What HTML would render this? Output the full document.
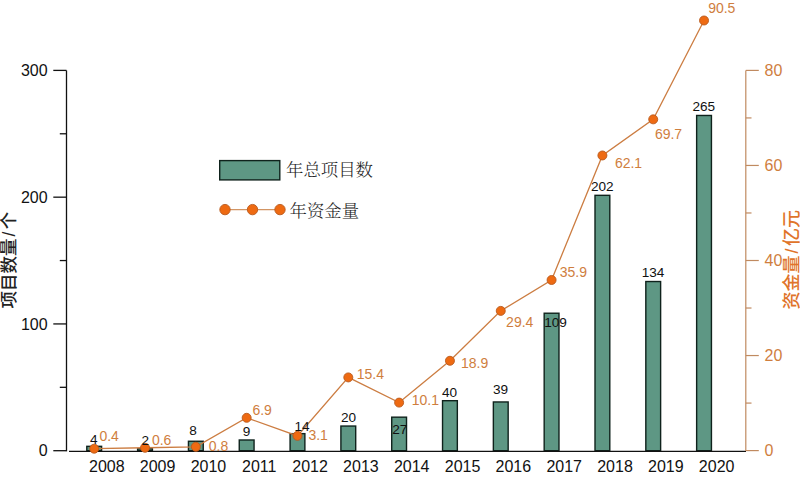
<!DOCTYPE html><html><head><meta charset="utf-8"><style>
html,body{margin:0;padding:0;background:#fff;width:800px;height:480px;overflow:hidden}
svg{display:block}
.n{font-family:"Liberation Sans",Arial,sans-serif}
.cjs{font-family:"Liberation Sans","Noto Sans CJK SC",sans-serif}
.cjr{font-family:"Liberation Serif","Noto Serif CJK SC",serif}
</style></head><body>
<svg width="800" height="480" viewBox="0 0 800 480">
<rect width="800" height="480" fill="#fff"/>
<rect x="86.80" y="446.33" width="14.80" height="4.37" fill="#5E9784" stroke="#0F221C" stroke-width="1.4"/>
<rect x="137.62" y="448.86" width="14.80" height="1.84" fill="#5E9784" stroke="#0F221C" stroke-width="1.4"/>
<rect x="188.44" y="441.26" width="14.80" height="9.44" fill="#5E9784" stroke="#0F221C" stroke-width="1.4"/>
<rect x="239.26" y="439.99" width="14.80" height="10.71" fill="#5E9784" stroke="#0F221C" stroke-width="1.4"/>
<rect x="290.08" y="433.65" width="14.80" height="17.05" fill="#5E9784" stroke="#0F221C" stroke-width="1.4"/>
<rect x="340.90" y="426.05" width="14.80" height="24.65" fill="#5E9784" stroke="#0F221C" stroke-width="1.4"/>
<rect x="391.72" y="417.17" width="14.80" height="33.53" fill="#5E9784" stroke="#0F221C" stroke-width="1.4"/>
<rect x="442.54" y="400.69" width="14.80" height="50.01" fill="#5E9784" stroke="#0F221C" stroke-width="1.4"/>
<rect x="493.36" y="401.96" width="14.80" height="48.74" fill="#5E9784" stroke="#0F221C" stroke-width="1.4"/>
<rect x="544.18" y="313.22" width="14.80" height="137.48" fill="#5E9784" stroke="#0F221C" stroke-width="1.4"/>
<rect x="595.00" y="195.33" width="14.80" height="255.37" fill="#5E9784" stroke="#0F221C" stroke-width="1.4"/>
<rect x="645.82" y="281.53" width="14.80" height="169.17" fill="#5E9784" stroke="#0F221C" stroke-width="1.4"/>
<rect x="696.64" y="115.47" width="14.80" height="335.23" fill="#5E9784" stroke="#0F221C" stroke-width="1.4"/>
<g stroke="#111" stroke-width="1.3" fill="none">
<line x1="66.5" y1="70.4" x2="66.5" y2="451.2"/>
<line x1="53.3" y1="450.70" x2="66.5" y2="450.70"/>
<line x1="53.3" y1="323.93" x2="66.5" y2="323.93"/>
<line x1="53.3" y1="197.17" x2="66.5" y2="197.17"/>
<line x1="53.3" y1="70.40" x2="66.5" y2="70.40"/>
<line x1="59.8" y1="387.32" x2="66.5" y2="387.32"/>
<line x1="59.8" y1="260.55" x2="66.5" y2="260.55"/>
<line x1="59.8" y1="133.78" x2="66.5" y2="133.78"/>
<line x1="69" y1="451.35" x2="746" y2="451.35" stroke-width="1.3"/>
</g>
<g stroke="#C08A60" stroke-width="1.2" fill="none">
<line x1="745.8" y1="70.4" x2="745.8" y2="451"/>
<line x1="745.8" y1="450.60" x2="758.8" y2="450.60"/>
<line x1="745.8" y1="355.55" x2="758.8" y2="355.55"/>
<line x1="745.8" y1="260.50" x2="758.8" y2="260.50"/>
<line x1="745.8" y1="165.45" x2="758.8" y2="165.45"/>
<line x1="745.8" y1="70.40" x2="758.8" y2="70.40"/>
<line x1="745.8" y1="403.08" x2="751.5" y2="403.08"/>
<line x1="745.8" y1="308.02" x2="751.5" y2="308.02"/>
<line x1="745.8" y1="212.97" x2="751.5" y2="212.97"/>
<line x1="745.8" y1="117.93" x2="751.5" y2="117.93"/>
</g>
<polyline points="94.20,448.70 145.02,447.75 195.84,446.80 246.66,417.81 297.48,435.87 348.30,377.41 399.12,402.60 449.94,360.78 500.76,310.88 551.58,279.99 602.40,155.47 653.22,119.35 704.04,20.50" fill="none" stroke="#CC7D42" stroke-width="1.3"/>
<circle cx="94.20" cy="448.70" r="4.5" fill="#EE6A12" stroke="#B85A1E" stroke-width="0.9"/>
<circle cx="145.02" cy="447.75" r="4.5" fill="#EE6A12" stroke="#B85A1E" stroke-width="0.9"/>
<circle cx="195.84" cy="446.80" r="4.5" fill="#EE6A12" stroke="#B85A1E" stroke-width="0.9"/>
<circle cx="246.66" cy="417.81" r="4.5" fill="#EE6A12" stroke="#B85A1E" stroke-width="0.9"/>
<circle cx="297.48" cy="435.87" r="4.5" fill="#EE6A12" stroke="#B85A1E" stroke-width="0.9"/>
<circle cx="348.30" cy="377.41" r="4.5" fill="#EE6A12" stroke="#B85A1E" stroke-width="0.9"/>
<circle cx="399.12" cy="402.60" r="4.5" fill="#EE6A12" stroke="#B85A1E" stroke-width="0.9"/>
<circle cx="449.94" cy="360.78" r="4.5" fill="#EE6A12" stroke="#B85A1E" stroke-width="0.9"/>
<circle cx="500.76" cy="310.88" r="4.5" fill="#EE6A12" stroke="#B85A1E" stroke-width="0.9"/>
<circle cx="551.58" cy="279.99" r="4.5" fill="#EE6A12" stroke="#B85A1E" stroke-width="0.9"/>
<circle cx="602.40" cy="155.47" r="4.5" fill="#EE6A12" stroke="#B85A1E" stroke-width="0.9"/>
<circle cx="653.22" cy="119.35" r="4.5" fill="#EE6A12" stroke="#B85A1E" stroke-width="0.9"/>
<circle cx="704.04" cy="20.50" r="4.5" fill="#EE6A12" stroke="#B85A1E" stroke-width="0.9"/>
<g class="n" font-size="16" fill="#111" text-anchor="end">
<text x="47.6" y="456.40">0</text>
<text x="47.6" y="329.63">100</text>
<text x="47.6" y="202.87">200</text>
<text x="47.6" y="76.10">300</text>
</g>
<g class="n" font-size="16" fill="#CF7E3E" text-anchor="start">
<text x="764.5" y="456.30">0</text>
<text x="764.5" y="361.25">20</text>
<text x="764.5" y="266.20">40</text>
<text x="764.5" y="171.15">60</text>
<text x="764.5" y="76.10">80</text>
</g>
<g class="n" font-size="16" fill="#111" text-anchor="middle">
<text x="106.80" y="472.1">2008</text>
<text x="157.62" y="472.1">2009</text>
<text x="208.44" y="472.1">2010</text>
<text x="259.26" y="472.1">2011</text>
<text x="310.08" y="472.1">2012</text>
<text x="360.90" y="472.1">2013</text>
<text x="411.72" y="472.1">2014</text>
<text x="462.54" y="472.1">2015</text>
<text x="513.36" y="472.1">2016</text>
<text x="564.18" y="472.1">2017</text>
<text x="615.00" y="472.1">2018</text>
<text x="665.82" y="472.1">2019</text>
<text x="716.64" y="472.1">2020</text>
</g>
<g class="n" font-size="13.6" fill="#111" text-anchor="middle">
<text x="93.75" y="444.10">4</text>
<text x="145.20" y="444.50">2</text>
<text x="193.10" y="435.35">8</text>
<text x="246.50" y="436.10">9</text>
<text x="302.00" y="431.35">14</text>
<text x="348.50" y="422.10">20</text>
<text x="399.75" y="433.50">27</text>
<text x="449.50" y="397.10">40</text>
<text x="500.60" y="394.40">39</text>
<text x="555.60" y="327.00">109</text>
<text x="602.25" y="191.10">202</text>
<text x="653.00" y="276.85">134</text>
<text x="703.80" y="111.00">265</text>
</g>
<g class="n" font-size="14" fill="#CF7E3E">
<text x="99.40" y="441.00">0.4</text>
<text x="151.90" y="445.40">0.6</text>
<text x="208.80" y="451.25">0.8</text>
<text x="252.40" y="415.00">6.9</text>
<text x="308.40" y="439.75">3.1</text>
<text x="356.80" y="379.20">15.4</text>
<text x="411.80" y="404.60">10.1</text>
<text x="461.00" y="368.30">18.9</text>
<text x="506.10" y="326.70">29.4</text>
<text x="559.80" y="277.30">35.9</text>
<text x="614.90" y="168.00">62.1</text>
<text x="654.90" y="139.00">69.7</text>
<text x="708.15" y="12.70">90.5</text>
</g>
<rect x="219.7" y="160.6" width="60.1" height="19.3" fill="#5E9784" stroke="#0F221C" stroke-width="1.4"/>
<text class="cjr" x="286" y="176" font-size="17.4" font-weight="300" fill="#222">年总项目数</text>
<line x1="225" y1="209.6" x2="280" y2="209.6" stroke="#D29564" stroke-width="1.4"/>
<circle cx="225" cy="209.6" r="5.2" fill="#EE6A12" stroke="#B85A1E" stroke-width="0.9"/>
<circle cx="252.5" cy="209.6" r="5.2" fill="#EE6A12" stroke="#B85A1E" stroke-width="0.9"/>
<circle cx="280" cy="209.6" r="5.2" fill="#EE6A12" stroke="#B85A1E" stroke-width="0.9"/>
<text class="cjr" x="289.5" y="216.5" font-size="17.4" font-weight="300" fill="#222">年资金量</text>
<text class="cjs" font-weight="500" font-size="17.5" fill="#222" transform="translate(15.3,308.5) rotate(-90)">项目数量<tspan dx="2.0">/</tspan><tspan dx="2.5">个</tspan></text>
<text class="cjs" font-weight="500" font-size="18" fill="#E0742A" transform="translate(797.5,309.6) rotate(-90)">资金量<tspan dx="2.0">/</tspan><tspan dx="2.5">亿元</tspan></text>
</svg></body></html>
